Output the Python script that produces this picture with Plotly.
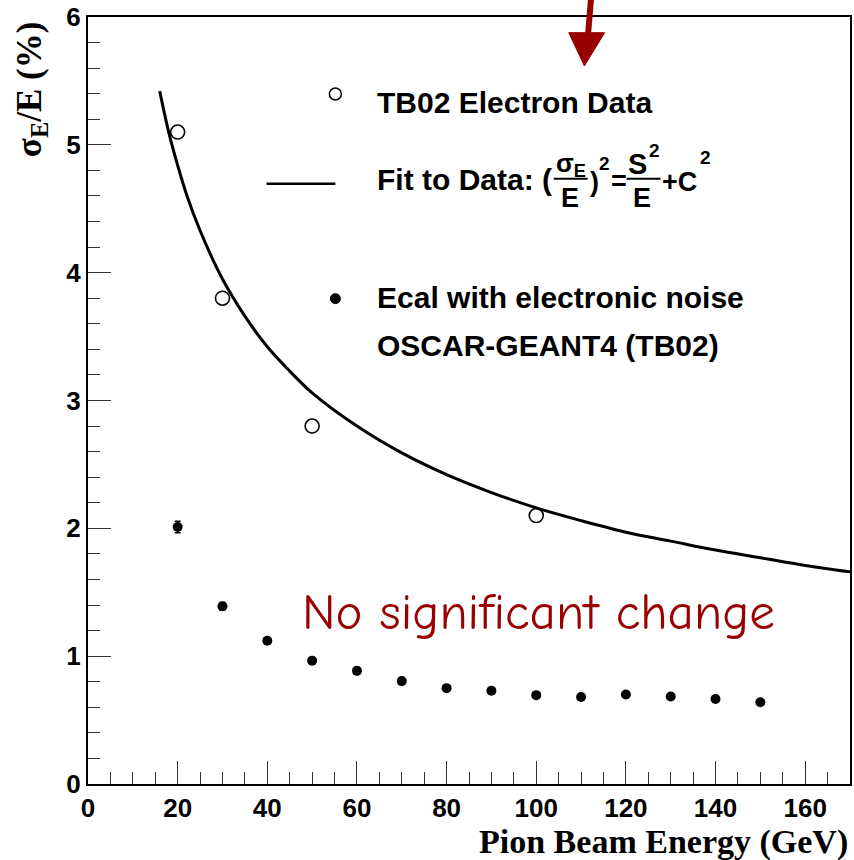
import plotly.graph_objects as go

# ---------------- data ----------------
electron_E = [20, 30, 50, 100]
electron_res = [5.10, 3.80, 2.80, 2.10]

ecal_E = [20, 30, 40, 50, 60, 70, 80, 90, 100, 110, 120, 130, 140, 150]
ecal_res = [2.01, 1.39, 1.12, 0.965, 0.885, 0.805, 0.75, 0.73, 0.695, 0.68, 0.70, 0.685, 0.665, 0.64]
ecal_err = [0.045, 0.03, 0.02, 0.02, 0.02, 0.02, 0.02, 0.02, 0.02, 0.02, 0.02, 0.02, 0.02, 0.02]

fit_E = [16, 18, 20, 22, 25, 30, 35, 40, 45, 50, 60, 70, 80, 90, 100, 110, 120, 130, 140, 150, 160, 170]
fit_res = [5.42, 5.10, 4.84, 4.61, 4.33, 3.95, 3.66, 3.42, 3.23, 3.06, 2.80, 2.59, 2.42, 2.28,
           2.16, 2.06, 1.97, 1.90, 1.83, 1.77, 1.71, 1.66]

x_ticks = [0, 20, 40, 60, 80, 100, 120, 140, 160]
y_ticks = [0, 1, 2, 3, 4, 5, 6]

# ---------------- layout helpers (pixel -> paper) ----------------
W, H = 854, 860
L, R, T, B = 88, 2, 16, 76
PW, PH = W - L - R, H - T - B


def px(x):
    return (x - L) / PW


def py(y):
    return (H - B - y) / PH


SANS = "Liberation Sans, Arial, Helvetica, sans-serif"
SERIF = "Liberation Serif, Times New Roman, serif"
RED = "#990000"

fig = go.Figure()

fig.add_trace(go.Scatter(
    x=fit_E, y=fit_res, mode="lines", line=dict(color="black", width=3, shape="spline"),
    showlegend=False, hoverinfo="skip"))

fig.add_trace(go.Scatter(
    x=electron_E, y=electron_res, mode="markers",
    marker=dict(symbol="circle-open", size=14, color="black", line=dict(width=1.6, color="black")),
    showlegend=False))

fig.add_trace(go.Scatter(
    x=ecal_E, y=ecal_res, mode="markers",
    marker=dict(symbol="circle", size=10, color="black"),
    error_y=dict(type="data", array=ecal_err, visible=True, color="black", thickness=1.5, width=3),
    showlegend=False))

annotations = []
shapes = []


def text(s, x, y, size, xanchor="left", yanchor="middle", family=SANS, color="black", weight="bold", angle=0):
    annotations.append(dict(
        text=s, x=px(x), y=py(y), xref="paper", yref="paper", showarrow=False,
        xanchor=xanchor, yanchor=yanchor, textangle=angle,
        font=dict(family=family, size=size, color=color, weight=weight)))


# legend block
shapes.append(dict(type="circle", xref="paper", yref="paper",
                   x0=px(330), x1=px(342), y0=py(99), y1=py(87),
                   line=dict(color="black", width=1.5)))
text("TB02 Electron Data", 376, 102, 30)

shapes.append(dict(type="line", xref="paper", yref="paper",
                   x0=px(267), x1=px(336), y0=py(183), y1=py(183),
                   line=dict(color="black", width=2.5)))
text("Fit to Data: (", 376, 178.5, 30)
text("σ<sub>E</sub>", 572, 164, 26, xanchor="center")
text("E", 571, 197.5, 27, xanchor="center")
shapes.append(dict(type="line", xref="paper", yref="paper",
                   x0=px(555), x1=px(589), y0=py(178), y1=py(178),
                   line=dict(color="black", width=2)))
text(")", 589, 181, 27)
text("2", 606, 163, 19, xanchor="center")
text("=", 620, 180, 27, xanchor="center")
text("S", 639, 163, 29, xanchor="center")
text("2", 656, 150, 19, xanchor="center")
text("E", 643.5, 197.5, 27, xanchor="center")
shapes.append(dict(type="line", xref="paper", yref="paper",
                   x0=px(628), x1=px(662), y0=py(178), y1=py(178),
                   line=dict(color="black", width=2)))
text("+C", 661, 181, 27)
text("2", 707, 157, 19, xanchor="center")

shapes.append(dict(type="circle", xref="paper", yref="paper",
                   x0=px(331), x1=px(341), y0=py(303), y1=py(293),
                   fillcolor="black", line=dict(color="black", width=1)))
text("Ecal with electronic noise", 376, 296.5, 30)
text("OSCAR-GEANT4 (TB02)", 376, 345, 30)

# annotation text
text("No significant change", 540, 612, 51, xanchor="center",
     family="Comic Sans MS, Comic Neue, Noto Sans, sans-serif", color=RED, weight="normal")

# arrow
shapes.append(dict(type="line", xref="paper", yref="paper",
                   x0=px(592.3), y0=py(-2), x1=px(589.3), y1=py(34),
                   line=dict(color=RED, width=6)))
shapes.append(dict(type="path", xref="paper", yref="paper",
                   path=f"M {px(570)},{py(31.7)} L {px(606)},{py(31.7)} L {px(585.7)},{py(65)} Z",
                   fillcolor=RED, line=dict(color=RED, width=1)))

# axis titles
text("Pion Beam Energy (GeV)", 852, 842, 34, xanchor="right", family=SERIF)
text("σ<sub>E</sub>/E (%)", 32, 18, 35, xanchor="center", yanchor="top", family=SERIF, angle=-90)

fig.update_layout(
    width=W, height=H,
    margin=dict(l=L, r=R, t=T, b=B, pad=0),
    paper_bgcolor="white", plot_bgcolor="white",
    annotations=annotations, shapes=shapes,
    showlegend=False,
)

fig.update_xaxes(
    range=[0, 170], tickvals=x_ticks, ticktext=[str(v) for v in x_ticks],
    ticks="inside", ticklen=23, tickwidth=1, tickcolor="#333333",
    minor=dict(dtick=5, tick0=0, ticks="inside", ticklen=12, tickwidth=1, tickcolor="#333333", showgrid=False),
    showgrid=False, zeroline=False, showline=True, linecolor="black", linewidth=2, mirror=True,
    tickfont=dict(family=SANS, size=26, color="black", weight="bold"),
)
fig.update_yaxes(
    range=[0, 6], tickvals=y_ticks, ticktext=[str(v) for v in y_ticks],
    ticks="inside", ticklen=23, tickwidth=1, tickcolor="#333333",
    minor=dict(dtick=0.2, tick0=0, ticks="inside", ticklen=12, tickwidth=1, tickcolor="#333333", showgrid=False),
    showgrid=False, zeroline=False, showline=True, linecolor="black", linewidth=2, mirror=True,
    tickfont=dict(family=SANS, size=26, color="black", weight="bold"),
)

fig.write_html("out.html")
